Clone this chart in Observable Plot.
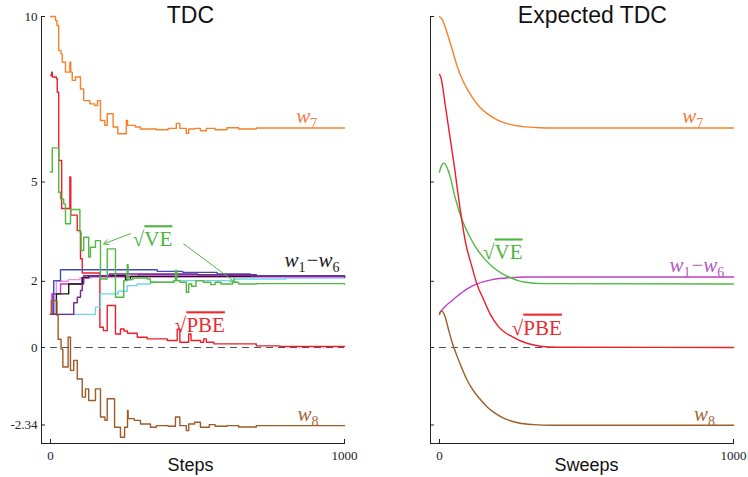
<!DOCTYPE html>
<html><head><meta charset="utf-8">
<script src="https://cdn.jsdelivr.net/npm/d3@7"></script>
<script src="https://cdn.jsdelivr.net/npm/@observablehq/plot@0.6"></script>
<style>
body{margin:0;background:#fff;}
#wrap{position:relative;width:748px;height:477px;overflow:hidden;}
#left,#right{position:absolute;top:0;}
#left{left:0}#right{left:374px}
</style></head><body><div id="wrap"><div id="left"></div><div id="right"></div></div>
<script>
// ---- axis ticks ----
const yTicks = [10, 5, 2, 0, -2.34];
const yTickLabels = ["10", "5", "2", "0", "-2.34"];
const xTicks = [0, 1000];
const titles = ["TDC", "Expected TDC"];
const xLabels = ["Steps", "Sweeps"];

// ---- left panel: TDC (step, value) change points ----
const tdcW7 = [[0,10.0],[17,9.88],[22,9.73],[28,8.97],[36,8.87],[40,8.62],[51,8.32],[66,8.62],[69,8.32],[74,8.07],[85,8.17],[102,7.81],[113,7.46],[134,7.36],[150,7.31],[160,7.46],[170,6.86],[185,6.71],[193,7.06],[213,6.66],[229,6.46],[258,6.86],[262,6.71],[289,6.66],[306,6.6],[360,6.58],[400,6.62],[428,6.77],[440,6.62],[462,6.47],[470,6.6],[490,6.62],[510,6.55],[530,6.62],[560,6.58],[600,6.64],[640,6.6],[700,6.63],[1000,6.63]];
const tdcPBE = [[0,8.22],[4,8.32],[6,8.17],[20,8.12],[23,7.71],[28,5.65],[38,4.2],[66,5.15],[69,4.0],[91,3.53],[102,2.68],[108,2.25],[168,0.61],[180,0.51],[193,1.27],[221,0.41],[238,0.56],[250,0.5],[262,0.43],[295,0.31],[329,0.26],[397,0.21],[431,0.55],[440,0.16],[470,0.41],[478,0.21],[510,0.16],[521,0.26],[530,0.16],[556,0.11],[635,0.11],[700,0.05],[780,0.03],[1000,0.03]];
const tdcVE = [[0,5.3],[6,6.03],[28,4.69],[34,4.49],[45,4.34],[51,3.74],[68,4.17],[100,3.48],[104,2.93],[113,3.33],[130,2.73],[136,3.03],[153,3.23],[170,2.07],[193,2.98],[221,1.52],[249,2.02],[261,2.5],[264,2.05],[280,2.1],[329,2.07],[340,1.97],[420,2.02],[425,2.33],[430,2.02],[440,1.97],[462,1.67],[470,1.92],[480,1.85],[495,2.02],[520,1.97],[545,1.9],[560,1.97],[580,1.92],[620,1.97],[640,1.92],[700,1.93],[1000,1.92]];
const tdcW8 = [[0,1.0],[3,1.42],[22,0.97],[26,0.25],[36,-0.05],[42,-0.59],[60,0.31],[68,-0.69],[79,-0.39],[91,-0.95],[108,-1.5],[119,-1.25],[130,-1.6],[153,-1.25],[170,-2.1],[185,-2.2],[193,-1.55],[218,-2.41],[238,-2.71],[252,-2.41],[262,-1.9],[264,-2.15],[285,-2.2],[306,-2.31],[340,-2.41],[360,-2.36],[400,-2.38],[425,-2.1],[440,-2.36],[462,-2.51],[470,-2.31],[490,-2.26],[510,-2.41],[540,-2.33],[560,-2.38],[600,-2.36],[640,-2.4],[700,-2.36],[1000,-2.36]];
const tdcW1 = [[0,1.0],[11,2.02],[34,2.35],[363,2.3],[450,2.27],[567,2.22],[680,2.17],[1000,2.16]];
const tdcW2 = [[0,1.0],[20,1.62],[62,1.92],[108,2.12],[130,2.17],[255,2.05],[272,2.15],[1000,2.13]];
const tdcW3 = [[0,1.0],[6,1.62],[34,1.92],[108,2.1],[130,2.15],[300,2.2],[600,2.17],[1000,2.15]];
const tdcW4 = [[0,1.0],[3,1.62],[20,2.0],[60,2.05],[100,2.1],[140,2.12],[1000,2.12]];
const tdcW5 = [[0,1.0],[79,1.35],[91,1.52],[102,1.72],[108,1.92],[113,2.17],[200,2.22],[500,2.2],[700,2.15],[1000,2.13]];
const tdcW6 = [[0,1.0],[153,1.22],[170,1.62],[230,1.7],[261,1.87],[295,1.92],[340,1.97],[419,2.02],[623,2.07],[800,2.1],[1000,2.12]];

// ---- right panel: Expected TDC (sweep, value) ----
const expW7 = [[0,10],[10,9.9],[26,9.5],[40,9.1],[60,8.5],[80,8.05],[100,7.72],[139,7.24],[160,7.08],[196,6.88],[240,6.74],[280,6.68],[340,6.64],[400,6.63],[1000,6.63]];
const expPBE = [[0,8.25],[5,8.15],[20,7.3],[50,5.5],[70,4.2],[88,3.2],[110,2.45],[128,1.9],[150,1.45],[173,1.0],[200,0.64],[253,0.3],[300,0.12],[343,0.04],[400,0.01],[1000,0]];
const expVE = [[0,5.3],[6,5.48],[15,5.57],[25,5.45],[35,5.2],[54,4.5],[77,3.85],[100,3.4],[122,3.05],[151,2.7],[179,2.45],[210,2.25],[236,2.13],[265,2.03],[293,1.97],[350,1.93],[1000,1.92]];
const expW16 = [[0,1.05],[20,1.25],[40,1.4],[60,1.55],[90,1.75],[128,1.92],[180,2.05],[240,2.11],[300,2.13],[1000,2.13]];
const expW8 = [[0,1.0],[6,1.1],[12,1.07],[20,0.9],[32,0.5],[45,0.1],[57,-0.2],[75,-0.6],[92,-0.95],[115,-1.3],[137,-1.55],[165,-1.82],[195,-2.02],[230,-2.18],[270,-2.28],[320,-2.33],[380,-2.35],[1000,-2.35]];

// ---- annotations (data units) ----
const leftLabels = [
  {t:"w7", x:836, y:6.78, c:"#f47b44"},
  {t:"w1-w6", x:796, y:2.42, c:"#222222"},
  {t:"sqrtVE", x:280, y:3.06, c:"#4ab53f"},
  {t:"sqrtPBE", x:423, y:0.46, c:"#ea2a2f"},
  {t:"w8", x:840, y:-2.21, c:"#a5673a"}
];
const rightLabels = [
  {t:"w7", x:826, y:6.78, c:"#f47b44"},
  {t:"sqrtVE", x:148, y:2.66, c:"#4ab53f"},
  {t:"w1-w6", x:782, y:2.29, c:"#b657c4"},
  {t:"sqrtPBE", x:246, y:0.39, c:"#ea2a2f"},
  {t:"w8", x:866, y:-2.21, c:"#a5673a"}
];
const leftArrows = [
  {x1:272, y1:3.44, x2:181, y2:3.13},
  {x1:453, y1:3.13, x2:629, y2:1.97}
];

const leftSeries = [
  [tdcPBE, "#ec1d2a"], [tdcW6, "#6cd7e8"], [tdcW4, "#e890e6"], [tdcW3, "#c832c8"], [tdcW2, "#1a1a1a"],
  [tdcW1, "#3d4eb8"], [tdcW5, "#7b2597"], [tdcVE, "#52b840"],
  [tdcW7, "#f7812b"], [tdcW8, "#9c5b27"]
];
const rightSeries = [
  [expW16, "#c040c4"], [expVE, "#52b840"], [expPBE, "#ec1d2a"], [expW7, "#f7812b"], [expW8, "#9c5b27"]
];

const xDomain = [-30.6, 1000];
const yDomain = [-2.9, 10];

function rows(arr){ return arr.map(([x, y]) => ({x, y})); }

function panel(o){
  const marks = [
    Plot.ruleY([0], {x1: xTicks[0], x2: xTicks[1], stroke: "#555", strokeDasharray: "7,5", strokeWidth: 1})
  ];
  for (const [s, c] of o.series) {
    marks.push(Plot.line(rows(s), {x: "x", y: "y", stroke: c, strokeWidth: 1.4, curve: o.curve}));
  }
  if (o.arrows) marks.push(Plot.arrow(o.arrows, {x1:"x1", y1:"y1", x2:"x2", y2:"y2", stroke:"#52b840", strokeWidth:1, headLength:8, bend:0}));
  marks.push(Plot.text(o.labels, {x:"x", y:"y", text:"t", fill:"c", textAnchor:"start", lineAnchor:"bottom", fontSize:21, fontFamily:"Liberation Serif"}));
  marks.push(Plot.text([o.title], {x: o.titleX, frameAnchor:"top", lineAnchor:"middle", dy:-1, fontSize:23, fontFamily:"Liberation Sans", fill:"#111"}));
  marks.push(Plot.text([o.xlabel], {x: o.xlabelX, frameAnchor:"bottom", lineAnchor:"bottom", dy:27, fontSize:18, fontFamily:"Liberation Sans", fill:"#111"}));
  const svg = Plot.plot({
    width: 374, height: 477,
    marginLeft: o.marginLeft, marginRight: o.marginRight, marginTop: 16, marginBottom: 34,
    style: {fontFamily: "Liberation Serif", fontSize: "13px", color: "#222", background: "white", overflow: "visible"},
    x: {domain: xDomain, ticks: xTicks, tickFormat: d => String(d), tickSize: -4, tickPadding: 11, line: true, label: null},
    y: {domain: yDomain, ticks: yTicks, tickFormat: o.showY ? (d => yTickLabels[yTicks.indexOf(d)]) : (() => ""), tickSize: -4, tickPadding: 8, line: true, label: null},
    marks
  });
  richLabels(svg);
  return svg;
}

function richLabels(svg){
  d3.select(svg).selectAll("text").each(function(){
    const t = this.textContent;
    const el = d3.select(this);
    const it = (s) => el.append("tspan").attr("font-style","italic").text(s);
    const sub = (s) => el.append("tspan").attr("font-size","14px").attr("dy","5").text(s);
    if (t === "w7" || t === "w8") {
      el.text(null); it("w"); sub(t[1]);
    } else if (t === "w1-w6") {
      el.text(null); it("w"); sub("1");
      el.append("tspan").attr("dy","-5").attr("dx","1").text("\u2212");
      it("w"); sub("6");
    } else if (t === "sqrtVE" || t === "sqrtPBE") {
      el.text(null);
      el.append("tspan").text("\u221A");
      el.append("tspan").style("text-decoration","overline").text(t.slice(4));
    }
  });
}

document.getElementById("left").appendChild(panel({
  series: leftSeries, curve: "step-after", labels: leftLabels, arrows: leftArrows,
  title: titles[0], titleX: 476, xlabel: xLabels[0], xlabelX: 476,
  marginLeft: 41, marginRight: 30, showY: true
}));
document.getElementById("right").appendChild(panel({
  series: rightSeries, curve: "monotone-x", labels: rightLabels, arrows: null,
  title: titles[1], titleX: 520, xlabel: xLabels[1], xlabelX: 500,
  marginLeft: 56, marginRight: 15, showY: false
}));
</script></body></html>
